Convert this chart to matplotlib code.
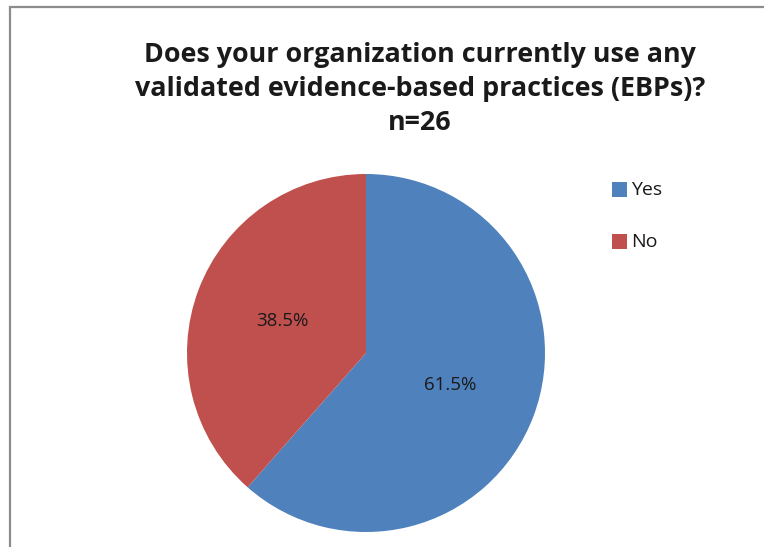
import matplotlib.pyplot as plt
from matplotlib.patches import Rectangle

labels = ["Yes", "No"]
values = [61.5, 38.5]
colors = ["#4F81BD", "#C0504D"]
title = "Does your organization currently use any\nvalidated evidence-based practices (EBPs)?\nn=26"

W, H = 764, 547
fig = plt.figure(figsize=(W / 100, H / 100), dpi=100)

# chart border (right and bottom edges run off the picture)
fig.patches.append(Rectangle((10 / W, -0.05), 1.0, (H - 7) / H + 0.05,
                             transform=fig.transFigure, fill=False,
                             edgecolor="#8c8c8c", lw=1.6))

# pie
cx, cy, r = 366, 353, 179
ax = fig.add_axes([(cx - r) / W, (H - cy - r) / H, 2 * r / W, 2 * r / H])
wedges, _, autotexts = ax.pie(
    values, colors=colors, startangle=90, counterclock=False,
    autopct="%.1f%%", pctdistance=0.5, radius=1.0,
    textprops=dict(fontsize=13.5, color="#1a1a1a", family="Open Sans"),
)
ax.set_xlim(-1, 1)
ax.set_ylim(-1, 1)
ax.set_aspect("equal")

# title
fig.text(420 / W, 1 - 89 / H, title, ha="center", va="center",
         fontsize=19.4, fontweight="bold", family="Open Sans",
         linespacing=1.42, color="#1a1a1a")

# legend
for i, lab in enumerate(labels):
    y = 190 + i * 52
    fig.patches.append(Rectangle((612 / W, 1 - (y + 7) / H), 15 / W, 15 / H,
                                 transform=fig.transFigure,
                                 facecolor=colors[i], edgecolor="none"))
    fig.text(631 / W, 1 - y / H, lab, ha="left", va="center",
             fontsize=14, family="Open Sans", color="#1a1a1a")

fig.savefig("out.png", dpi=100)
